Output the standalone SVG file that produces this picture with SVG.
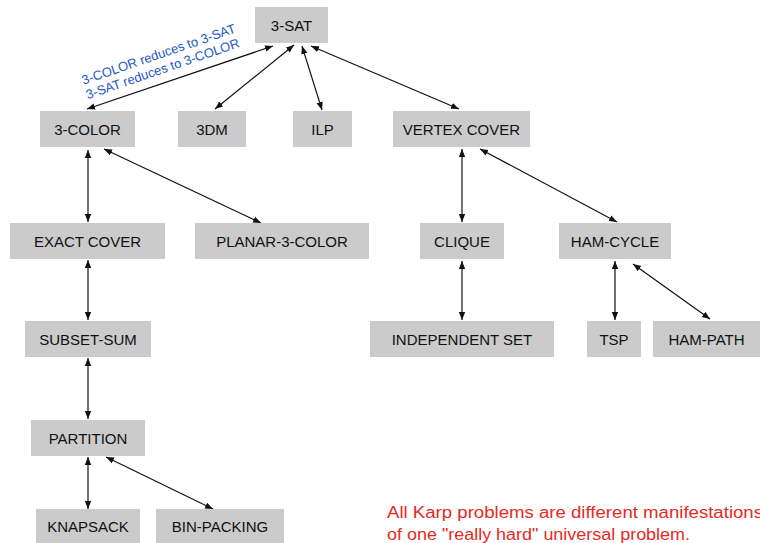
<svg xmlns="http://www.w3.org/2000/svg" width="760" height="543" viewBox="0 0 760 543">
<style>
.n rect{fill:#cbcbcb}
.n text{font-family:"Liberation Sans",Arial,sans-serif;font-size:15px;fill:#111;text-anchor:middle}
.e line{stroke:#111;stroke-width:1.2;marker-start:url(#a);marker-end:url(#a)}
.lbl{font-family:"Liberation Sans",Arial,sans-serif;font-size:13px;fill:#2258c8;text-anchor:middle}
.note{font-family:"Liberation Sans",Arial,sans-serif;font-size:16px;fill:#e62a1e}
</style>
<defs>
<marker id="a" viewBox="0 0 10 10" refX="10" refY="5" markerWidth="8" markerHeight="8" markerUnits="userSpaceOnUse" orient="auto-start-reverse">
<path d="M0,1 L10,5 L0,9 Z" fill="#111"/>
</marker>
</defs>
<rect width="760" height="543" fill="#fff"/>
<g class="e" id="connectors">
<line x1="273" y1="46" x2="87" y2="109"/>
<line x1="294" y1="45" x2="215" y2="109"/>
<line x1="302" y1="46" x2="322" y2="110"/>
<line x1="311" y1="46" x2="459" y2="109"/>
<line x1="88" y1="150" x2="88" y2="222"/>
<line x1="104" y1="149" x2="261" y2="223"/>
<line x1="88" y1="260" x2="88" y2="320"/>
<line x1="88" y1="358" x2="88" y2="419"/>
<line x1="88" y1="457" x2="88" y2="509"/>
<line x1="106" y1="457" x2="213" y2="509"/>
<line x1="462" y1="149" x2="462" y2="222"/>
<line x1="480" y1="149" x2="617" y2="222"/>
<line x1="462" y1="261" x2="462" y2="320"/>
<line x1="615" y1="261" x2="615" y2="320"/>
<line x1="633" y1="264" x2="710" y2="319"/>
</g>
<g class="n" id="n-3sat"><rect x="255" y="7" width="73" height="36"/><text x="291.5" y="30.5">3-SAT</text></g>
<g class="n" id="n-3color"><rect x="40" y="111" width="95" height="36"/><text x="87.5" y="134.5">3-COLOR</text></g>
<g class="n" id="n-3dm"><rect x="178" y="111" width="68" height="36"/><text x="212" y="134.5">3DM</text></g>
<g class="n" id="n-ilp"><rect x="293" y="111" width="59" height="36"/><text x="322.5" y="134.5">ILP</text></g>
<g class="n" id="n-vc"><rect x="393" y="111" width="137" height="36"/><text x="461.5" y="134.5">VERTEX COVER</text></g>
<g class="n" id="n-exact"><rect x="10" y="223" width="155" height="36"/><text x="87.5" y="246.5">EXACT COVER</text></g>
<g class="n" id="n-planar"><rect x="195" y="223" width="174" height="36"/><text x="282" y="246.5">PLANAR-3-COLOR</text></g>
<g class="n" id="n-clique"><rect x="420" y="223" width="84" height="36"/><text x="462" y="246.5">CLIQUE</text></g>
<g class="n" id="n-hamcycle"><rect x="559" y="223" width="112" height="36"/><text x="615" y="246.5">HAM-CYCLE</text></g>
<g class="n" id="n-subset"><rect x="25" y="321" width="126" height="36"/><text x="88" y="344.5">SUBSET-SUM</text></g>
<g class="n" id="n-indep"><rect x="370" y="321" width="184" height="36"/><text x="462" y="344.5">INDEPENDENT SET</text></g>
<g class="n" id="n-tsp"><rect x="587" y="321" width="54" height="36"/><text x="614" y="344.5">TSP</text></g>
<g class="n" id="n-hampath"><rect x="653" y="321" width="107" height="36"/><text x="706.5" y="344.5">HAM-PATH</text></g>
<g class="n" id="n-partition"><rect x="31" y="420" width="114" height="36"/><text x="88" y="443.5">PARTITION</text></g>
<g class="n" id="n-knapsack"><rect x="36" y="509" width="104" height="36"/><text x="88" y="532">KNAPSACK</text></g>
<g class="n" id="n-binpacking"><rect x="156" y="509" width="128" height="36"/><text x="220" y="532">BIN-PACKING</text></g>
<g id="label-3color-3sat">
<text class="lbl" transform="translate(160,58.5) rotate(-19)">3-COLOR reduces to 3-SAT</text>
<text class="lbl" transform="translate(164,73) rotate(-19)">3-SAT reduces to 3-COLOR</text>
</g>
<g id="note">
<text class="note" x="387" y="518" textLength="376" lengthAdjust="spacingAndGlyphs">All Karp problems are different manifestations</text>
<text class="note" x="387" y="540" textLength="303" lengthAdjust="spacingAndGlyphs">of one "really hard" universal problem.</text>
</g>
</svg>
